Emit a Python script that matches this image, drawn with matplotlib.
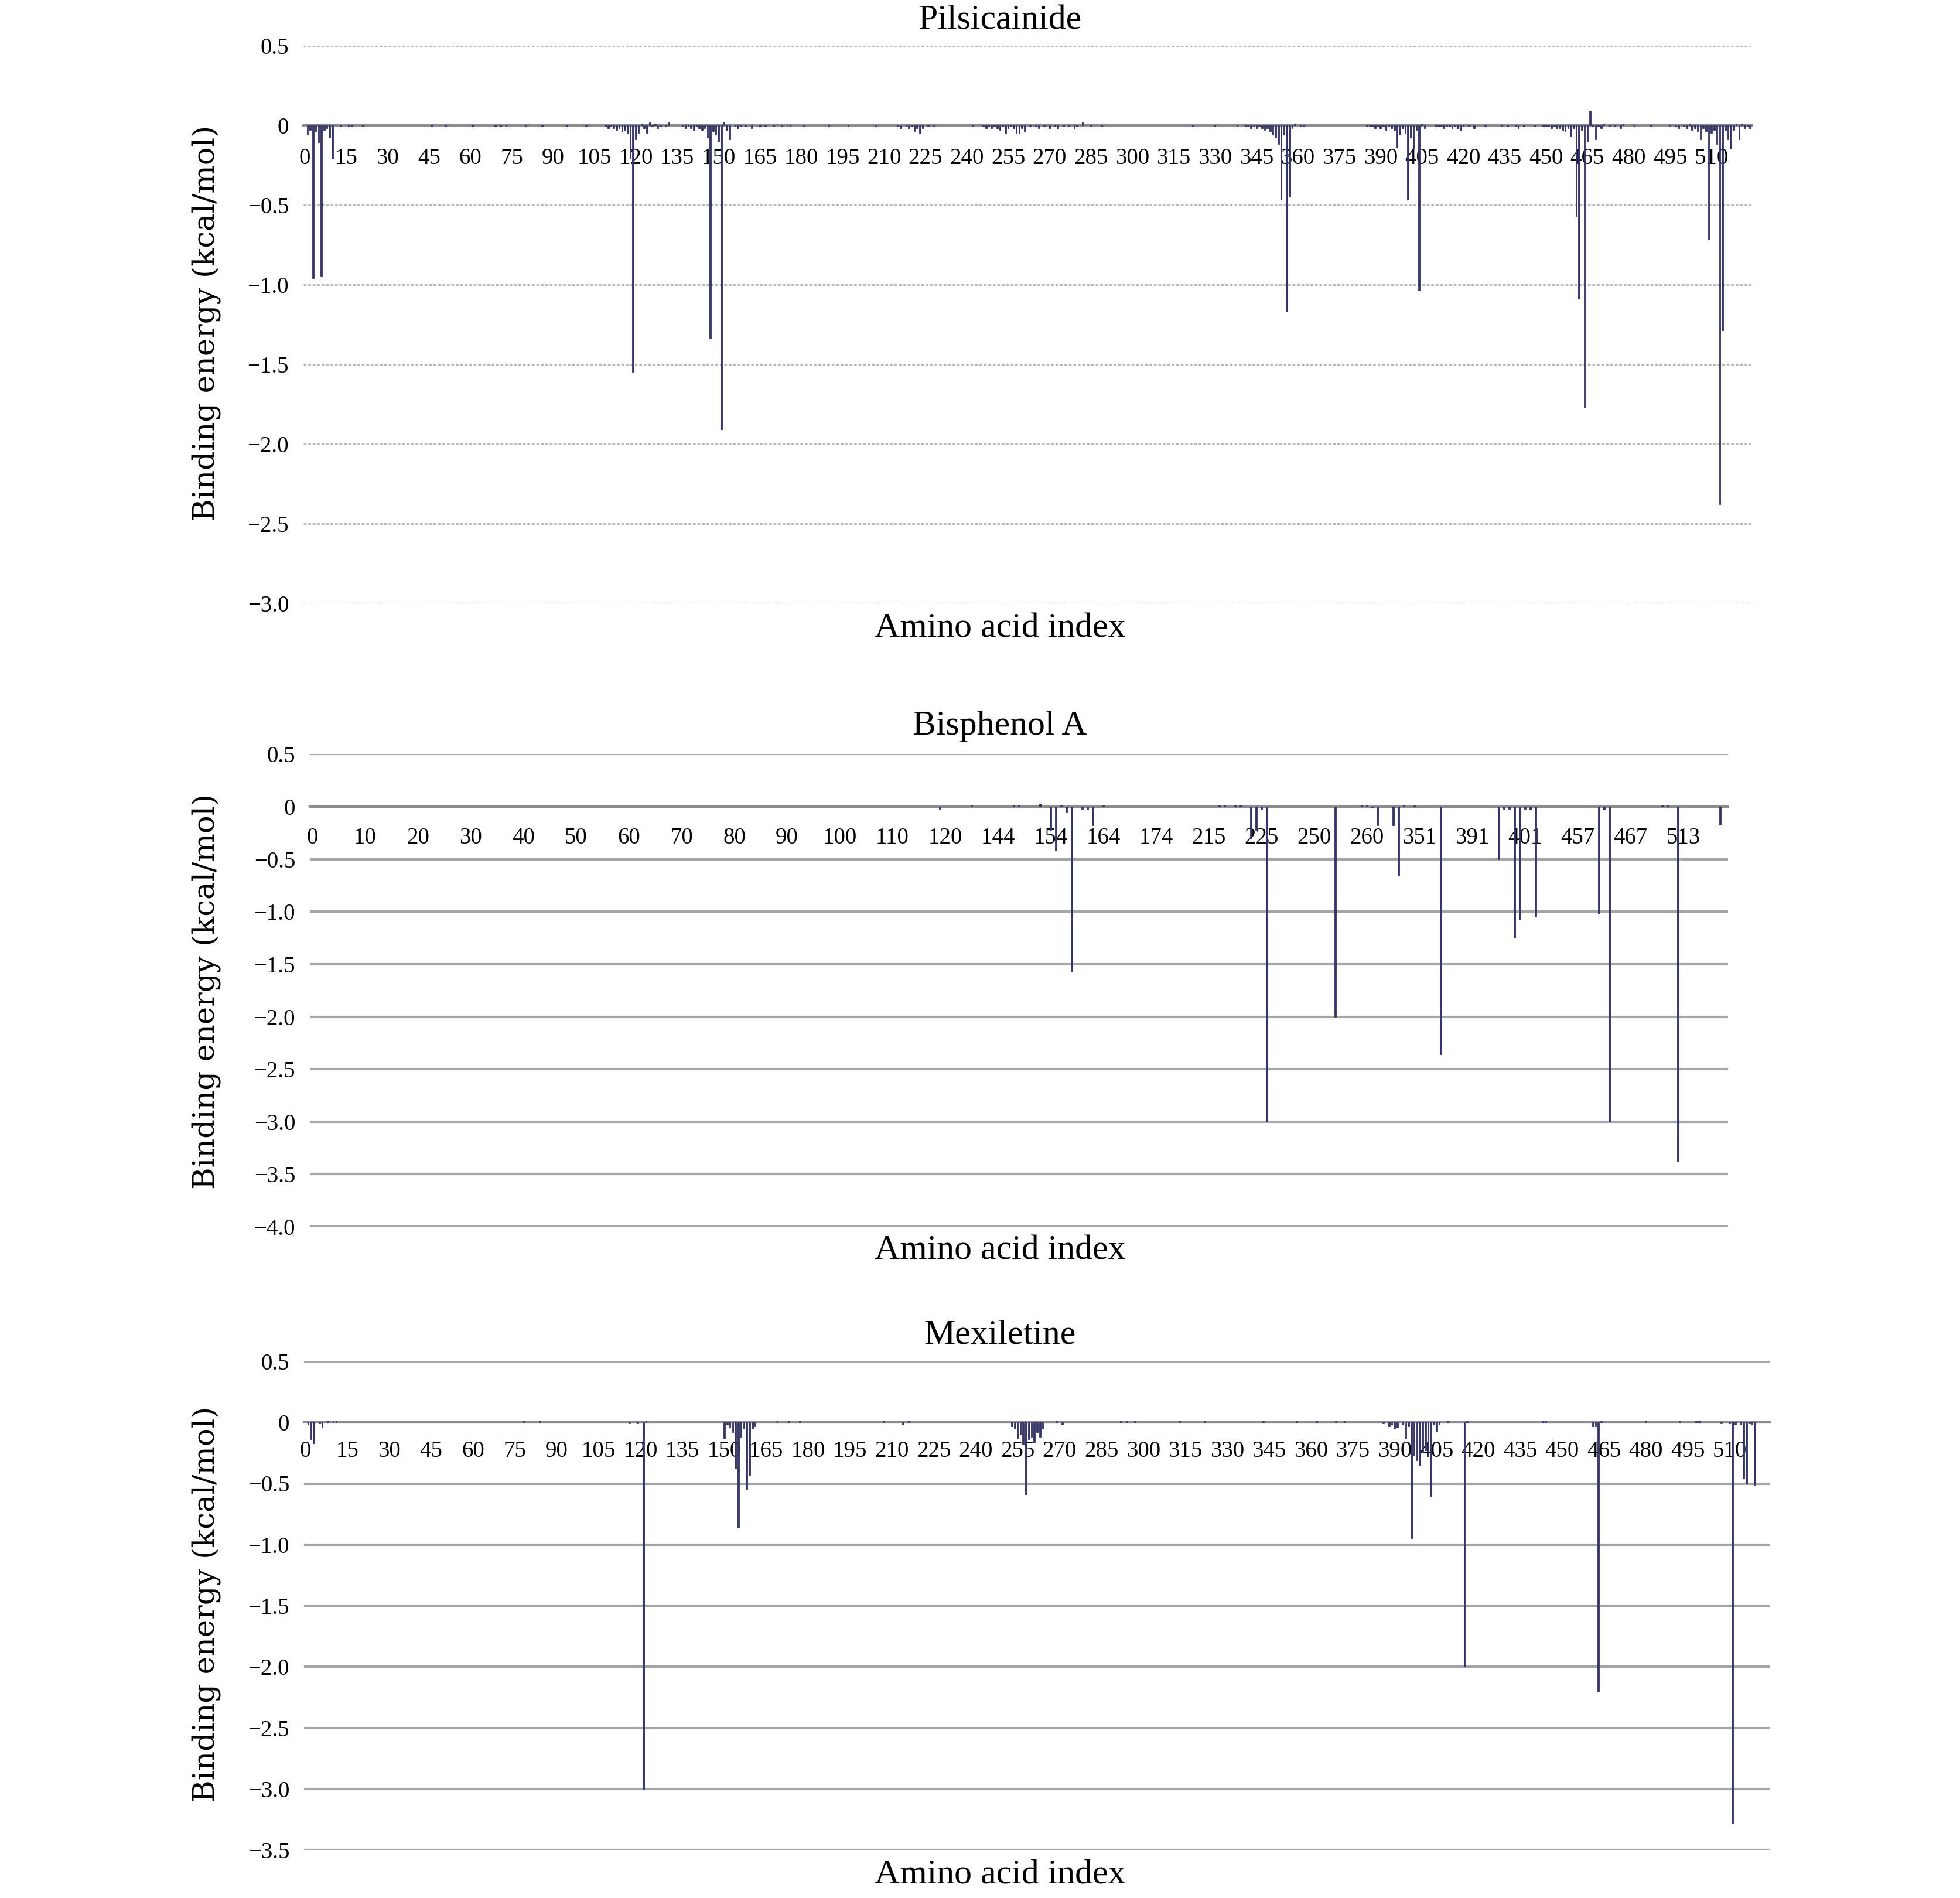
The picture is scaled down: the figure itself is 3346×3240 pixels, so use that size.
import matplotlib
matplotlib.use("Agg")
import matplotlib.pyplot as plt
import numpy as np

# ---- data (category index, binding energy in kcal/mol) ----
pil_idx = [1, 2, 3, 4, 5, 6, 7, 8, 9, 10, 13, 16, 17, 21, 46, 51, 61, 69, 71, 73, 80, 86, 95, 102,
           109, 110, 111, 112, 113, 114, 115, 116, 117, 118, 119, 120, 121, 122, 123, 124, 125, 126,
           127, 128, 129, 131, 132, 137, 138, 139, 140, 141, 142, 143, 144, 145, 146, 147, 148, 149,
           150, 151, 152, 153, 154, 156, 157, 158, 160, 162, 165, 167, 170, 173, 176, 181, 190, 197,
           207, 215, 216, 218, 219, 220, 221, 222, 223, 224, 226, 228, 242, 246, 247, 248, 249, 250,
           251, 252, 253, 254, 255, 256, 257, 258, 259, 260, 261, 263, 265, 266, 268, 270, 272, 273,
           275, 277, 279, 280, 282, 285, 289, 322, 330, 338, 341, 342, 343, 344, 345, 346, 347, 348,
           349, 350, 351, 352, 353, 354, 355, 356, 357, 358, 359, 361, 362, 385, 386, 387, 388, 389,
           390, 391, 392, 393, 394, 395, 396, 397, 398, 399, 400, 401, 402, 403, 404, 405, 406, 410,
           411, 412, 413, 414, 415, 416, 417, 418, 419, 420, 422, 424, 428, 434, 436, 439, 440, 442,
           446, 449, 450, 451, 452, 453, 454, 455, 456, 457, 458, 459, 460, 461, 462, 463, 464, 465,
           466, 467, 468, 469, 470, 471, 473, 475, 477, 478, 482, 488, 495, 497, 498, 500, 501, 502,
           503, 504, 505, 506, 507, 508, 509, 510, 511, 512, 513, 514, 515, 516, 517, 518, 519, 520,
           521, 522, 523, 524]
pil_val = [-0.06, -0.03, -0.96, -0.04, -0.11, -0.95, -0.03, -0.02, -0.08, -0.21, -0.01, -0.01, -0.01,
           -0.01, -0.01, -0.01, -0.01, -0.01, -0.01, -0.01, -0.01, -0.01, -0.01, -0.01,
           -0.01, -0.02, -0.01, -0.02, -0.03, -0.02, -0.04, -0.03, -0.05, -0.21, -1.55, -0.09, -0.05,
           0.01, -0.02, -0.05, 0.02, -0.01, 0.01, -0.02, -0.01, -0.01, 0.02, -0.01, -0.02, -0.01,
           -0.02, -0.03, -0.01, -0.02, -0.03, -0.02, -0.08, -1.34, -0.04, -0.06, -0.10, -1.91, 0.02,
           -0.03, -0.09, -0.01, -0.02, -0.01, -0.01, -0.02, -0.01, -0.01, -0.01, -0.01, -0.01, -0.01,
           -0.01, -0.01, -0.01, -0.01, -0.02, -0.01, -0.02, -0.01, -0.04, -0.02, -0.05, -0.02, -0.01,
           -0.01, -0.01, -0.01, -0.02, -0.01, -0.02, -0.01, -0.02, -0.03, -0.01, -0.05, -0.02, -0.01,
           -0.02, -0.05, -0.05, -0.02, -0.04, -0.01, -0.01, -0.02, -0.01, -0.02, -0.01, -0.02, -0.01,
           -0.01, -0.02, -0.01, 0.02, -0.01, -0.01, -0.01, -0.01, -0.01, -0.01, -0.01, -0.02, -0.01,
           -0.02, -0.01, -0.02, -0.03, -0.02, -0.04, -0.06, -0.08, -0.12, -0.47, -0.06, -1.17, -0.45,
           -0.02, 0.01, -0.01, -0.01, -0.01, -0.01, -0.01, -0.02, -0.01, -0.02, -0.01, -0.03, -0.01,
           -0.02, -0.03, -0.14, -0.06, -0.02, -0.05, -0.47, -0.08, -0.15, -0.03, -1.04, 0.01, -0.02,
           -0.01, -0.01, -0.01, -0.02, -0.01, -0.01, -0.02, -0.01, -0.02, -0.03, -0.01, -0.01, -0.02,
           -0.01, -0.01, -0.01, -0.01, -0.02, -0.01, -0.01, -0.01, -0.01, -0.01, -0.02, -0.01, -0.02,
           -0.02, -0.03, -0.04, -0.02, -0.07, -0.02, -0.57, -1.09, -0.03, -1.77, -0.10, 0.09, -0.01,
           -0.09, -0.01, -0.02, 0.01, -0.01, -0.01, -0.02, 0.01, -0.01, -0.01, -0.01, -0.01, -0.02,
           -0.01, -0.02, 0.01, -0.03, -0.02, -0.04, -0.09, -0.02, -0.04, -0.72, -0.05, -0.03, -0.12,
           -2.38, -1.29, -0.03, -0.09, -0.15, -0.03, 0.01, -0.09, 0.01, -0.02, -0.01, -0.02]
pil_labels = [str(v) for v in range(0, 511, 15)]

bpa_idx = [119, 125, 133, 134, 138, 140, 141, 142, 143, 144, 146, 147, 148, 150, 172, 173, 175, 176,
           178, 179, 180, 181, 194, 199, 200, 201, 202, 205, 206, 207, 209, 214, 225, 226, 227, 228,
           229, 230, 231, 232, 244, 245, 246, 256, 257, 259, 267]
bpa_val = [-0.02, 0.01, 0.01, 0.01, 0.03, -0.22, -0.42, 0.01, -0.05, -1.57, -0.02, -0.03, -0.18, 0.01,
           0.01, 0.01, 0.01, 0.01, -0.30, -0.22, -0.02, -3.00, -2.00, 0.01, 0.01, -0.01, -0.18, -0.18,
           -0.66, 0.01, 0.01, -2.36, -0.50, -0.02, -0.02, -1.25, -1.07, -0.02, -0.03, -1.05, -1.02,
           -0.03, -3.00, 0.01, 0.01, -3.38, -0.17]
bpa_labels = ['0', '10', '20', '30', '40', '50', '60', '70', '80', '90', '100', '110', '120', '144',
              '154', '164', '174', '215', '225', '250', '260', '351', '391', '401', '457', '467', '513']

mex_idx = [1, 2, 3, 5, 6, 8, 10, 11, 78, 84, 116, 119, 121, 122, 150, 151, 152, 153, 154, 155, 156,
           157, 158, 159, 160, 161, 169, 173, 177, 207, 214, 216, 253, 254, 255, 256, 257, 258, 259,
           260, 261, 262, 263, 264, 269, 271, 292, 294, 297, 313, 322, 343, 355, 362, 369, 372, 386,
           388, 389, 390, 391, 393, 394, 395, 396, 397, 398, 399, 400, 401, 402, 403, 404, 405, 406,
           409, 415, 416, 443, 444, 461, 462, 463, 464, 480, 492, 498, 499, 507, 510, 511, 512, 514,
           515, 516, 517, 518, 519]
mex_val = [-0.02, -0.14, -0.17, -0.01, -0.04, 0.01, 0.01, 0.01, 0.01, 0.01, -0.01, -0.01, -3.00, 0.01,
           -0.13, -0.02, -0.04, -0.08, -0.38, -0.86, -0.12, -0.05, -0.55, -0.43, -0.05, -0.03, 0.01,
           0.01, 0.01, 0.01, -0.02, 0.01, -0.03, -0.05, -0.13, -0.10, -0.18, -0.59, -0.14, -0.12,
           -0.16, -0.08, -0.12, -0.05, 0.01, -0.02, 0.01, 0.01, 0.01, 0.01, 0.01, 0.01, 0.01, 0.01,
           0.01, 0.01, -0.01, -0.03, -0.02, -0.05, -0.04, -0.02, -0.13, -0.03, -0.95, -0.27, -0.31,
           -0.35, -0.25, -0.23, -0.28, -0.61, -0.02, -0.07, -0.02, 0.01, -2.00, 0.01, 0.01, 0.01,
           -0.03, -0.03, -2.20, 0.01, 0.01, 0.01, 0.01, 0.01, -0.01, -0.01, -3.28, -0.02, -0.02,
           -0.46, -0.50, -0.01, -0.02, -0.51]
mex_labels = [str(v) for v in range(0, 511, 15)]

W, H = 3346, 3240
fig = plt.figure(figsize=(W / 100, H / 100), dpi=100)
serif = ['Liberation Serif', 'DejaVu Serif']
bar_color = '#34346f'


def ytick_text(v):
    if abs(v) < 1e-9:
        return '0'
    if v > 0:
        return f'{v:.1f}'
    return '\u2212' + f'{-v:.1f}'


def draw_panel(box, idx, vals, n, step, labels, ylo, width, dotted,
               title, title_y, xlab_y, ylab_y, tick_gap):
    left, top, right, bottom = box
    ax = fig.add_axes([left / W, 1 - bottom / H, (right - left) / W, (bottom - top) / H])

    # axis line sits at y = 0, labels hang just below it (set before ticks, it resets them)
    for s in ['top', 'right', 'left']:
        ax.spines[s].set_visible(False)
    ax.spines['bottom'].set_position(('data', 0))
    ax.spines['bottom'].set_color('#8c8c8c')
    ax.spines['bottom'].set_linewidth(3)
    ax.spines['bottom'].set_zorder(2)

    ax.bar(idx, vals, width=width, color=bar_color, edgecolor=bar_color,
           linewidth=0.6, zorder=3)
    ax.set_xlim(-0.5, n - 0.5)
    ax.set_ylim(ylo, 0.5)

    yt = np.arange(0.5, ylo - 0.01, -0.5)
    ax.set_yticks(yt)
    ax.set_yticklabels([ytick_text(v) for v in yt], fontsize=28, family=serif)

    ax.set_xticks(np.arange(len(labels)) * step)
    ax.set_xticklabels(labels, fontsize=28, family=serif)

    if dotted:
        ax.yaxis.grid(True, color='#b8b8b8', linestyle=(0, (1.5, 1.0)), linewidth=2.2)
    else:
        ax.yaxis.grid(True, color='#a6a6a6', linestyle='-', linewidth=3)
    ax.set_axisbelow(True)

    ax.tick_params(axis='x', length=0, pad=tick_gap)
    ax.tick_params(axis='y', length=0, pad=18)

    cx = 1707 / W
    fig.text(cx, 1 - title_y / H, title, ha='center', va='center', fontsize=43, family=serif)
    fig.text(cx, 1 - xlab_y / H, 'Amino acid index', ha='center', va='center',
             fontsize=43, family=serif)
    fig.text(352 / W, 1 - ylab_y / H, 'Binding energy (kcal/mol)', ha='center', va='center',
             rotation=90, fontsize=37, family=['DejaVu Serif'])
    return ax


draw_panel((518, 77.5, 2990, 1029.5), pil_idx, pil_val, 525, 15, pil_labels, -3.0, 0.55, True,
           'Pilsicainide', 36, 1073, 551, 28)
draw_panel((529, 1287.5, 2950, 2094), bpa_idx, bpa_val, 269, 10, bpa_labels, -4.0, 0.3, False,
           'Bisphenol A', 1240, 2136, 1692, 25)
draw_panel((519, 2324, 3022, 3158), mex_idx, mex_val, 525, 15, mex_labels, -3.5, 0.55, False,
           'Mexiletine', 2279, 3201, 2738, 22)

fig.savefig('out.png', dpi=100, facecolor='white')
